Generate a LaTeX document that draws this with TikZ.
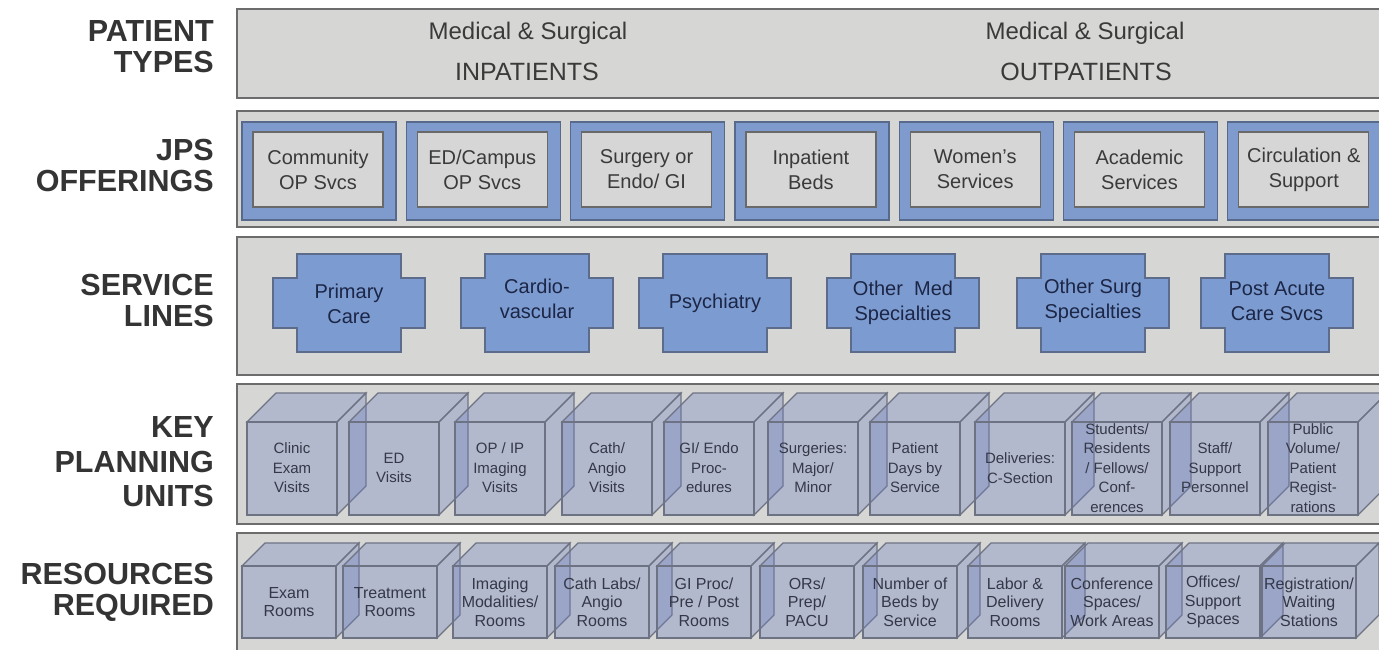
\documentclass[tikz,border=0pt]{standalone}
\usepackage{fontspec}
\setmainfont{Liberation Sans}
\newfontfamily\labelfont{Liberation Sans}
\definecolor{bandfill}{RGB}{214,214,212}
\definecolor{bandline}{RGB}{108,108,108}
\definecolor{labeltext}{RGB}{52,52,52}
\definecolor{ptext}{RGB}{58,58,58}
\definecolor{bluefill}{RGB}{127,155,206}
\definecolor{blueline}{RGB}{88,106,140}
\definecolor{innerfill}{RGB}{214,214,214}
\definecolor{innerline}{RGB}{105,105,105}
\definecolor{crossfill}{RGB}{124,155,208}
\definecolor{crossline}{RGB}{92,108,138}
\definecolor{crosstextc}{RGB}{28,38,70}
\definecolor{cubefill}{RGB}{108,126,190}
\definecolor{cubeline}{RGB}{110,115,132}
\definecolor{cubetextc}{RGB}{52,56,72}
\begin{document}
\begin{tikzpicture}[x=1pt,y=-1pt,
  band/.style={draw=bandline,line width=2.4pt,fill=bandfill},
  rowlabel/.style={anchor=east,align=right,inner sep=0pt,text=labeltext,font=\labelfont\bfseries\fontsize{30.5}{31}\selectfont},
  pttext/.style={text=ptext,inner sep=0pt},
  offerframe/.style={draw=blueline,line width=1.3pt,fill=bluefill},
  offerbox/.style={draw=innerline,line width=1.3pt,fill=innerfill,minimum width=130pt,minimum height=75pt,align=center,text=ptext,font=\fontsize{20}{25}\selectfont,inner sep=0pt},
  crossshape/.style={draw=crossline,line width=1.6pt,fill=crossfill},
  crosstext/.style={align=center,text=crosstextc,font=\fontsize{20}{25}\selectfont,inner sep=0pt},
  cubeface/.style={draw=cubeline,line width=1.1pt,fill=cubefill,fill opacity=0.33},
  kputext/.style={align=center,text=cubetextc,font=\fontsize{15}{19.5}\selectfont,inner sep=0pt},
  restext/.style={align=center,text=cubetextc,font=\fontsize{16}{18.5}\selectfont,inner sep=0pt}
]
\useasboundingbox (0,0) rectangle (1379,650);
\clip (0,0) rectangle (1379,650);
\fill[white] (0,0) rectangle (1379,650);

% row labels
\node[rowlabel] (lpt) at (214,47) {PATIENT\\TYPES};
\node[rowlabel] (ljps) at (214,166) {JPS\\OFFERINGS};
\node[rowlabel] (lsl) at (214,300) {SERVICE\\LINES};
\node[rowlabel,font=\labelfont\bfseries\fontsize{30.5}{34.5}\selectfont] (lkpu) at (214,462) {KEY\\PLANNING\\UNITS};
\node[rowlabel] (lrr) at (214,592) {RESOURCES\\REQUIRED};

% bands
\draw[band] (237,9) rectangle (1395,98);
\draw[band] (237,111) rectangle (1395,227);
\draw[band] (237,237) rectangle (1395,375);
\draw[band] (237,384) rectangle (1395,524);
\draw[band] (237,533) rectangle (1395,660);

% patient types
\node[pttext,font=\fontsize{24}{26}\selectfont] (inm) at (528,33) {Medical \& Surgical};
\node[pttext,font=\fontsize{25}{26}\selectfont] (inp) at (527,72) {INPATIENTS};
\node[pttext,font=\fontsize{24}{26}\selectfont] (outm) at (1085,33) {Medical \& Surgical};
\node[pttext,font=\fontsize{25}{26}\selectfont] (outp) at (1086,72) {OUTPATIENTS};

% JPS offerings
\foreach \i/\t in {0/{Community\\OP Svcs},1/{ED/Campus\\OP Svcs},2/{Surgery or\\Endo/ GI},3/{Inpatient\\Beds},4/{Women's\\Services},5/{Academic\\Services},6/{Circulation \&\\Support}}{
  \pgfmathsetmacro\xo{242+164.3*\i}
  \draw[offerframe] (\xo,122) rectangle ({\xo+154},220);
  \node[offerbox] (o\i) at ({\xo+76},169.5) {\t};
}

% service lines
\foreach \cx/\cy/\t [count=\k] in {349/304/{Primary\\Care},537/299/{Cardio-\\vascular},715/303/{Psychiatry},903/303/{Other~~Med\\Specialties},1093/301/{Other Surg\\Specialties},1277/301/{Post Acute\\Care Svcs}}{
  \draw[crossshape] ({\cx-52},254) -- ({\cx+52},254) -- ({\cx+52},278) -- ({\cx+76},278) -- ({\cx+76},328) -- ({\cx+52},328) -- ({\cx+52},352) -- ({\cx-52},352) -- ({\cx-52},328) -- ({\cx-76},328) -- ({\cx-76},278) -- ({\cx-52},278) -- cycle;
  \node[crosstext] (s\k) at (\cx,\cy) {\t};
}

% key planning units (cubes)
\foreach \x/\t [count=\k] in {247/{Clinic\\Exam\\Visits},349/{ED\\Visits},455/{OP / IP\\Imaging\\Visits},562/{Cath/\\Angio\\Visits},664/{GI/ Endo\\Proc-\\edures},768/{Surgeries:\\Major/\\Minor},870/{Patient\\Days by\\Service},975/{Deliveries:\\C-Section},1072/{Students/\\Residents\\/ Fellows/\\Conf-\\erences},1170/{Staff/\\Support\\Personnel},1268/{Public\\Volume/\\Patient\\Regist-\\rations}}{
  \draw[cubeface] (\x,422) -- ++(29,-29) -- ++(90,0) -- ++(-29,29) -- cycle;
  \draw[cubeface] ({\x+90},422) -- ++(29,-29) -- ++(0,93) -- ++(-29,29) -- cycle;
  \draw[cubeface] (\x,422) rectangle ++(90,93);
}
\foreach \x/\t [count=\k] in {247/{Clinic\\Exam\\Visits},349/{ED\\Visits},455/{OP / IP\\Imaging\\Visits},562/{Cath/\\Angio\\Visits},664/{GI/ Endo\\Proc-\\edures},768/{Surgeries:\\Major/\\Minor},870/{Patient\\Days by\\Service},975/{Deliveries:\\C-Section},1072/{Students/\\Residents\\/ Fellows/\\Conf-\\erences},1170/{Staff/\\Support\\Personnel},1268/{Public\\Volume/\\Patient\\Regist-\\rations}}{
  \node[kputext] (k\k) at ({\x+45},468) {\t};
}

% resources required (cubes)
\foreach \x/\t [count=\k] in {242/{Exam\\Rooms},343/{Treatment\\Rooms},453/{Imaging\\Modalities/\\Rooms},555/{Cath Labs/\\Angio\\Rooms},657/{GI Proc/\\Pre / Post\\Rooms},760/{ORs/\\Prep/\\PACU},863/{Number of\\Beds by\\Service},968/{Labor \&\\Delivery\\Rooms},1065/{Conference\\Spaces/\\Work Areas},1166/{Offices/\\Support\\Spaces},1262/{Registration/\\Waiting\\Stations}}{
  \draw[cubeface] (\x,566) -- ++(23,-23) -- ++(94,0) -- ++(-23,23) -- cycle;
  \draw[cubeface] ({\x+94},566) -- ++(23,-23) -- ++(0,72) -- ++(-23,23) -- cycle;
  \draw[cubeface] (\x,566) rectangle ++(94,72);
}
\foreach \x/\t [count=\k] in {242/{Exam\\Rooms},343/{Treatment\\Rooms},453/{Imaging\\Modalities/\\Rooms},555/{Cath Labs/\\Angio\\Rooms},657/{GI Proc/\\Pre / Post\\Rooms},760/{ORs/\\Prep/\\PACU},863/{Number of\\Beds by\\Service},968/{Labor \&\\Delivery\\Rooms},1065/{Conference\\Spaces/\\Work Areas},1166/{Offices/\\Support\\Spaces},1262/{Registration/\\Waiting\\Stations}}{
  \node[restext] (r\k) at ({\x+47},602) {\t};
}
\end{tikzpicture}
\end{document}
